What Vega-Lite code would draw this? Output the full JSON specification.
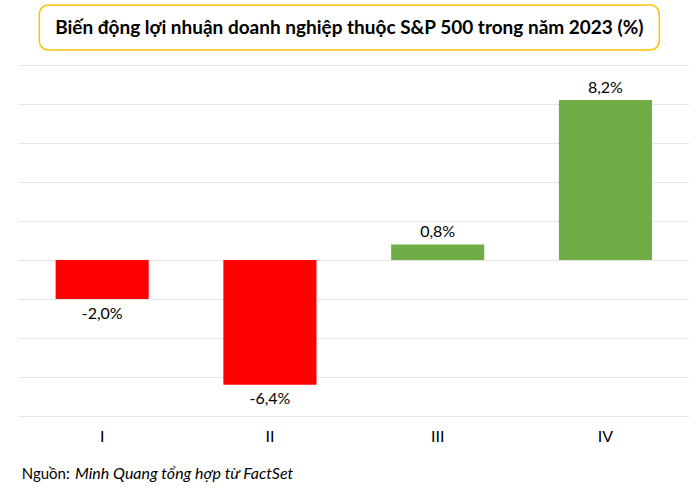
{
  "$schema": "https://vega.github.io/schema/vega-lite/v6.json",
  "background": "white",
  "padding": {"left": 18.3, "top": 4, "right": 0, "bottom": 0},
  "spacing": 14,
  "config": {
    "view": {"stroke": null},
    "font": "Lato",
    "concat": {"spacing": 0}
  },
  "vconcat": [
    {
      "spacing": 0,
      "hconcat": [
        {
          "width": 20,
          "height": 45,
          "data": {"values": [{}]},
          "mark": {"type": "point", "opacity": 0},
          "encoding": {}
        },
        {
          "width": 620,
          "height": 45,
          "view": {"stroke": "#FFC000", "strokeWidth": 1.5, "cornerRadius": 9, "fill": "white"},
          "data": {"values": [{}]},
          "mark": {
            "type": "text",
            "text": "Biến động lợi nhuận doanh nghiệp thuộc S&P 500 trong năm 2023 (%)",
            "font": "Lato",
            "fontSize": 19,
            "fontWeight": "bold",
            "baseline": "middle",
            "align": "center",
            "color": "#000000"
          },
          "encoding": {}
        }
      ]
    },
    {
      "width": 671,
      "height": 351,
      "data": {
        "values": [
          {"quarter": "I", "value": -2.0, "label": "-2,0%"},
          {"quarter": "II", "value": -6.4, "label": "-6,4%"},
          {"quarter": "III", "value": 0.8, "label": "0,8%"},
          {"quarter": "IV", "value": 8.2, "label": "8,2%"}
        ]
      },
      "encoding": {
        "x": {
          "field": "quarter",
          "type": "nominal",
          "sort": null,
          "scale": {"paddingInner": 0.445, "paddingOuter": 0.2225},
          "axis": {
            "title": null,
            "labelAngle": 0,
            "domain": false,
            "ticks": false,
            "tickSize": 0,
            "labelPadding": 13,
            "labelFontSize": 16,
            "labelFont": "Lato",
            "labelColor": "#000000"
          }
        },
        "y": {
          "field": "value",
          "type": "quantitative",
          "scale": {"domain": [-8, 10], "nice": false, "zero": true},
          "axis": {
            "title": null,
            "labels": false,
            "domain": false,
            "ticks": false,
            "values": [-8, -6, -4, -2, 0, 2, 4, 6, 8, 10],
            "grid": true,
            "gridColor": "#e6e6e6",
            "gridWidth": 1
          }
        }
      },
      "layer": [
        {
          "mark": {"type": "bar"},
          "encoding": {
            "color": {
              "condition": {"test": "datum.value < 0", "value": "#FF0000"},
              "value": "#70AD47"
            }
          }
        },
        {
          "transform": [{"filter": "datum.value >= 0"}],
          "mark": {"type": "text", "baseline": "alphabetic", "dy": -7.6, "fontSize": 16, "font": "Lato", "color": "#000000"},
          "encoding": {"text": {"field": "label"}}
        },
        {
          "transform": [{"filter": "datum.value < 0"}],
          "mark": {"type": "text", "baseline": "alphabetic", "dy": 19.7, "fontSize": 16, "font": "Lato", "color": "#000000"},
          "encoding": {"text": {"field": "label"}}
        }
      ]
    },
    {
      "width": 400,
      "height": 25,
      "data": {"values": [{}]},
      "layer": [
        {
          "mark": {"type": "text", "text": "Nguồn:", "font": "Lato", "fontSize": 15, "align": "left", "baseline": "alphabetic", "color": "#000000"},
          "encoding": {"x": {"value": 3.4}, "y": {"value": 20.5}}
        },
        {
          "mark": {"type": "text", "text": "Minh Quang tổng hợp từ FactSet", "font": "Lato", "fontSize": 16, "fontStyle": "italic", "align": "left", "baseline": "alphabetic", "color": "#000000"},
          "encoding": {"x": {"value": 56.7}, "y": {"value": 20.5}}
        }
      ]
    }
  ]
}
